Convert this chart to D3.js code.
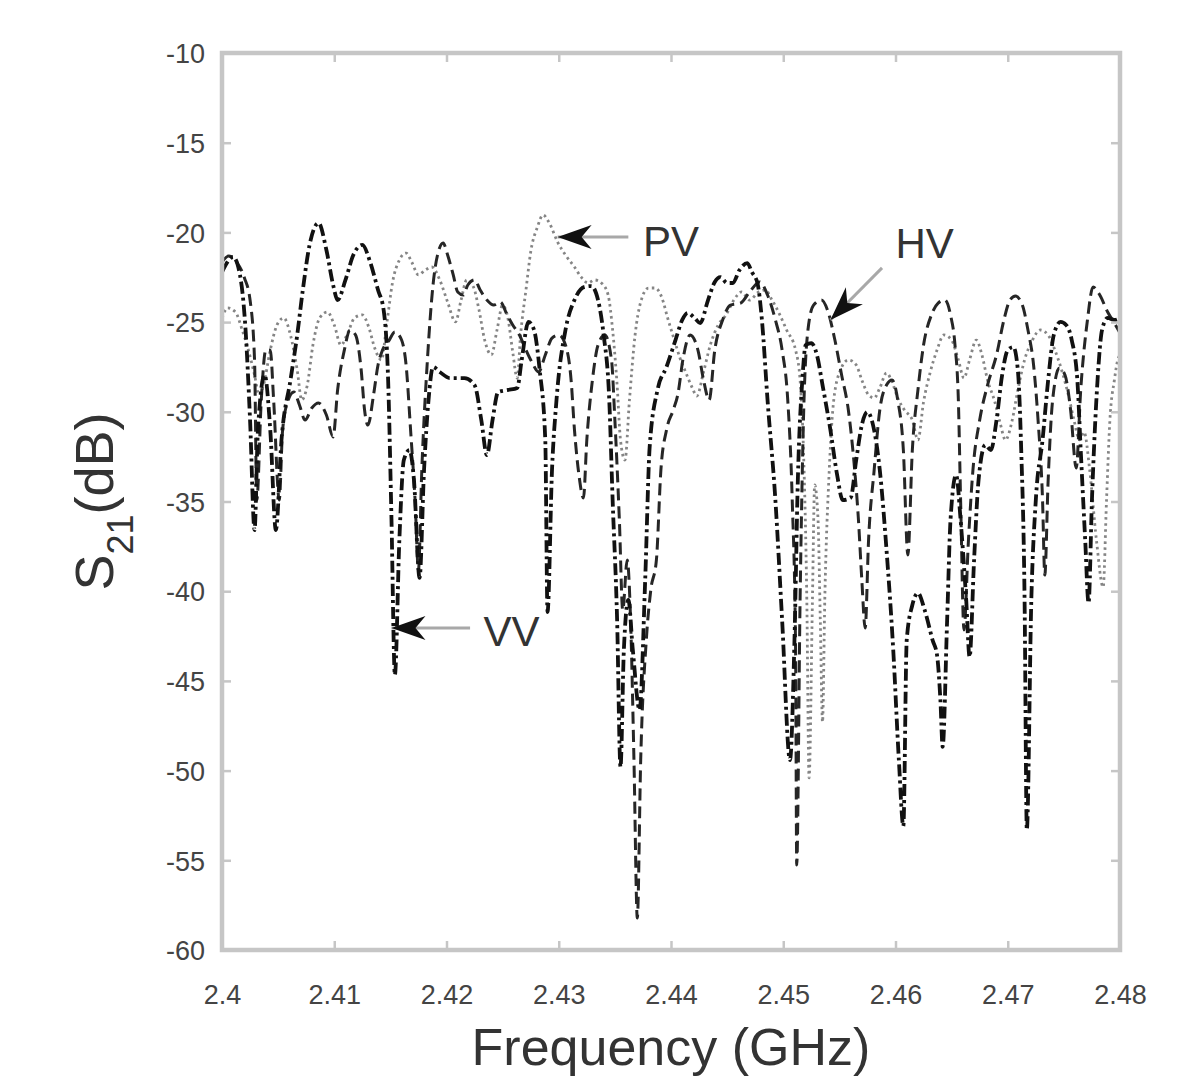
<!DOCTYPE html>
<html>
<head>
<meta charset="utf-8">
<script src="https://cdn.jsdelivr.net/npm/d3@7/dist/d3.min.js"></script>
<style>
  body { margin: 0; background: #fff; }
  svg { display: block; }
</style>
</head>
<body>
<div id="chart"></div>
<script>
var width = 1186,
  height = 1078,
  margin = { left: 222, right: 66, top: 53, bottom: 128 };

// tick values
var xTicks = [2.4, 2.41, 2.42, 2.43, 2.44, 2.45, 2.46, 2.47, 2.48];
var yTicks = [-10, -15, -20, -25, -30, -35, -40, -45, -50, -55, -60];

// VV (dash-dot)
var vvFreq = [2.4000, 2.4010, 2.4016, 2.4021, 2.4025, 2.4029, 2.4032, 2.4038, 2.4043, 2.4048,
  2.4053, 2.4061, 2.4067, 2.4072, 2.4078, 2.4086, 2.4093, 2.4099, 2.4103, 2.4110,
  2.4117, 2.4125, 2.4132, 2.4139, 2.4144, 2.4148, 2.4151, 2.4154, 2.4158, 2.4162,
  2.4167, 2.4171, 2.4176, 2.4180, 2.4184, 2.4188, 2.4194, 2.4203, 2.4216, 2.4225,
  2.4231, 2.4236, 2.4241, 2.4246, 2.4255, 2.4263, 2.4267, 2.4273, 2.4278, 2.4283,
  2.4288, 2.4290, 2.4294, 2.4298, 2.4306, 2.4314, 2.4323, 2.4329, 2.4335, 2.4340,
  2.4345, 2.4348, 2.4352, 2.4355, 2.4358, 2.4362, 2.4366, 2.4372, 2.4377, 2.4381,
  2.4388, 2.4396, 2.4404, 2.4410, 2.4415, 2.4421, 2.4426, 2.4433, 2.4439, 2.4444,
  2.4450, 2.4455, 2.4461, 2.4468, 2.4472, 2.4477, 2.4481, 2.4486, 2.4493, 2.4499,
  2.4506, 2.4510, 2.4513, 2.4517, 2.4520, 2.4525, 2.4530, 2.4535, 2.4542, 2.4548,
  2.4553, 2.4560, 2.4565, 2.4570, 2.4575, 2.4580, 2.4586, 2.4592, 2.4598, 2.4603,
  2.4607, 2.4610, 2.4615, 2.4620, 2.4626, 2.4633, 2.4637, 2.4640, 2.4642, 2.4646,
  2.4649, 2.4654, 2.4658, 2.4663, 2.4666, 2.4670, 2.4674, 2.4680, 2.4685, 2.4690,
  2.4695, 2.4700, 2.4705, 2.4709, 2.4712, 2.4715, 2.4717, 2.4721, 2.4725, 2.4731,
  2.4736, 2.4741, 2.4747, 2.4752, 2.4757, 2.4762, 2.4765, 2.4769, 2.4772, 2.4775,
  2.4780, 2.4784, 2.4789, 2.4795, 2.4800];
var vvS21 = [-22.21, -21.37, -22.37, -25.44, -30.46, -36.59, -31.01, -27.95, -31.01, -36.59,
  -31.57, -28.23, -25.72, -23.21, -20.70, -19.48, -20.98, -22.93, -23.77, -22.65,
  -21.26, -20.70, -21.65, -23.21, -24.33, -28.23, -36.03, -44.67, -37.15, -32.69,
  -32.13, -33.80, -39.26, -33.24, -29.34, -27.50, -27.78, -28.12, -28.12, -28.51,
  -30.46, -32.41, -30.46, -28.90, -28.78, -28.67, -27.11, -24.99, -25.44, -27.67,
  -31.57, -41.16, -33.24, -29.34, -25.44, -23.77, -23.04, -22.99, -23.77, -25.72,
  -29.34, -34.92, -41.61, -49.80, -43.28, -40.49, -43.28, -46.62, -39.38, -31.96,
  -28.78, -27.50, -26.00, -24.88, -24.49, -24.77, -25.05, -23.77, -22.76, -22.49,
  -22.82, -22.82, -22.10, -21.71, -22.21, -22.82, -24.88, -29.34, -34.92, -41.61,
  -49.41, -42.72, -33.80, -28.23, -26.28, -26.17, -26.83, -28.51, -31.01, -33.52,
  -34.92, -34.80, -32.69, -30.74, -30.01, -30.74, -33.24, -37.70, -43.28, -49.41,
  -53.09, -42.72, -40.77, -40.10, -41.05, -42.72, -43.56, -46.06, -48.68, -41.61,
  -36.03, -33.52, -36.03, -40.49, -43.67, -38.26, -33.80, -31.85, -32.13, -30.46,
  -27.95, -26.56, -26.39, -27.67, -32.13, -40.49, -53.31, -40.49, -34.92, -31.57,
  -28.23, -25.72, -24.99, -25.16, -26.00, -28.23, -32.13, -37.15, -40.66, -34.92,
  -28.23, -25.44, -24.77, -24.88, -24.77];

// HV (dashed)
var hvFreq = [2.4000, 2.4006, 2.4013, 2.4020, 2.4025, 2.4029, 2.4031, 2.4035, 2.4039, 2.4043,
  2.4046, 2.4051, 2.4054, 2.4059, 2.4064, 2.4069, 2.4074, 2.4080, 2.4086, 2.4093,
  2.4099, 2.4103, 2.4109, 2.4114, 2.4119, 2.4124, 2.4127, 2.4130, 2.4135, 2.4139,
  2.4143, 2.4149, 2.4154, 2.4160, 2.4164, 2.4168, 2.4172, 2.4175, 2.4178, 2.4183,
  2.4188, 2.4192, 2.4197, 2.4201, 2.4206, 2.4210, 2.4215, 2.4219, 2.4225, 2.4230,
  2.4236, 2.4242, 2.4248, 2.4254, 2.4259, 2.4265, 2.4270, 2.4276, 2.4282, 2.4288,
  2.4294, 2.4300, 2.4306, 2.4311, 2.4314, 2.4318, 2.4322, 2.4325, 2.4330, 2.4335,
  2.4341, 2.4347, 2.4350, 2.4354, 2.4357, 2.4361, 2.4364, 2.4367, 2.4370, 2.4373,
  2.4378, 2.4382, 2.4387, 2.4391, 2.4396, 2.4402, 2.4406, 2.4411, 2.4417, 2.4424,
  2.4429, 2.4434, 2.4439, 2.4446, 2.4453, 2.4462, 2.4470, 2.4479, 2.4486, 2.4493,
  2.4499, 2.4504, 2.4508, 2.4511, 2.4512, 2.4515, 2.4518, 2.4522, 2.4527, 2.4534,
  2.4540, 2.4546, 2.4552, 2.4558, 2.4562, 2.4567, 2.4570, 2.4573, 2.4576, 2.4581,
  2.4586, 2.4592, 2.4597, 2.4602, 2.4607, 2.4611, 2.4615, 2.4620, 2.4625, 2.4632,
  2.4638, 2.4644, 2.4649, 2.4653, 2.4656, 2.4658, 2.4661, 2.4665, 2.4669, 2.4675,
  2.4682, 2.4690, 2.4697, 2.4702, 2.4707, 2.4713, 2.4718, 2.4723, 2.4727, 2.4731,
  2.4733, 2.4736, 2.4740, 2.4746, 2.4751, 2.4756, 2.4761, 2.4765, 2.4771, 2.4776,
  2.4782, 2.4789, 2.4796, 2.4800];
var hvS21 = [-21.65, -21.32, -21.65, -22.54, -23.77, -27.11, -34.92, -29.34, -26.56, -26.56,
  -29.34, -34.92, -31.01, -29.34, -28.90, -29.62, -30.46, -29.79, -29.51, -30.18,
  -31.40, -28.78, -26.56, -25.44, -25.72, -27.67, -29.90, -30.74, -29.06, -27.39,
  -26.56, -26.00, -25.55, -26.00, -27.39, -31.01, -34.92, -38.82, -33.24, -27.11,
  -22.93, -21.26, -20.59, -21.26, -22.37, -23.32, -23.49, -22.93, -22.65, -23.21,
  -23.77, -24.05, -23.88, -24.60, -25.16, -25.72, -26.44, -27.22, -27.78, -26.83,
  -25.89, -25.72, -26.28, -28.23, -31.01, -33.52, -34.80, -31.57, -28.23, -26.28,
  -25.72, -27.11, -30.46, -36.03, -41.05, -38.26, -41.61, -49.41, -58.22, -49.41,
  -42.72, -39.93, -38.26, -33.24, -31.01, -29.90, -29.06, -26.95, -25.72, -26.56,
  -28.23, -29.34, -26.56, -24.88, -24.05, -23.94, -23.32, -22.76, -23.49, -24.88,
  -26.56, -29.34, -34.92, -43.28, -55.26, -40.49, -30.46, -25.44, -24.05, -23.77,
  -24.44, -26.00, -27.95, -29.90, -32.13, -36.03, -39.38, -42.05, -37.15, -33.24,
  -29.90, -28.51, -28.23, -29.34, -32.13, -37.98, -32.13, -28.78, -26.28, -24.60,
  -23.94, -23.77, -24.60, -26.28, -29.34, -34.92, -42.16, -37.15, -33.24, -30.46,
  -28.51, -26.83, -24.77, -23.77, -23.55, -24.05, -25.44, -27.39, -30.46, -34.92,
  -39.10, -33.80, -29.34, -27.56, -27.95, -29.90, -33.13, -28.78, -24.88, -23.04,
  -23.49, -24.44, -25.16, -25.61];

// PV (dotted)
var pvFreq = [2.4000, 2.4005, 2.4012, 2.4018, 2.4023, 2.4029, 2.4033, 2.4037, 2.4043, 2.4049,
  2.4055, 2.4061, 2.4067, 2.4071, 2.4076, 2.4081, 2.4087, 2.4094, 2.4100, 2.4106,
  2.4112, 2.4118, 2.4125, 2.4131, 2.4136, 2.4142, 2.4147, 2.4152, 2.4158, 2.4164,
  2.4169, 2.4175, 2.4181, 2.4187, 2.4194, 2.4201, 2.4208, 2.4213, 2.4218, 2.4224,
  2.4229, 2.4234, 2.4240, 2.4245, 2.4250, 2.4255, 2.4259, 2.4263, 2.4266, 2.4271,
  2.4275, 2.4281, 2.4286, 2.4292, 2.4299, 2.4306, 2.4314, 2.4320, 2.4326, 2.4332,
  2.4339, 2.4344, 2.4348, 2.4352, 2.4355, 2.4359, 2.4363, 2.4368, 2.4373, 2.4380,
  2.4386, 2.4392, 2.4397, 2.4403, 2.4408, 2.4413, 2.4419, 2.4423, 2.4429, 2.4435,
  2.4442, 2.4449, 2.4456, 2.4463, 2.4470, 2.4478, 2.4484, 2.4490, 2.4497, 2.4503,
  2.4511, 2.4515, 2.4518, 2.4521, 2.4523, 2.4526, 2.4528, 2.4531, 2.4533, 2.4535,
  2.4537, 2.4541, 2.4545, 2.4551, 2.4558, 2.4565, 2.4570, 2.4576, 2.4581, 2.4586,
  2.4592, 2.4597, 2.4602, 2.4608, 2.4615, 2.4620, 2.4625, 2.4631, 2.4637, 2.4643,
  2.4650, 2.4656, 2.4661, 2.4666, 2.4672, 2.4677, 2.4682, 2.4688, 2.4693, 2.4698,
  2.4704, 2.4709, 2.4715, 2.4722, 2.4729, 2.4736, 2.4742, 2.4748, 2.4754, 2.4759,
  2.4764, 2.4768, 2.4773, 2.4779, 2.4785, 2.4788, 2.4791, 2.4795, 2.4798, 2.4800];
var pvS21 = [-24.77, -24.21, -24.44, -25.44, -26.44, -27.95, -29.06, -28.51, -26.56, -25.16,
  -24.77, -25.72, -27.67, -29.34, -28.51, -26.28, -24.77, -24.44, -25.16, -26.28,
  -25.61, -24.77, -24.60, -25.33, -26.44, -27.11, -24.99, -22.76, -21.54, -21.15,
  -21.65, -22.37, -22.10, -21.93, -22.65, -23.88, -24.99, -23.77, -22.65, -23.04,
  -24.33, -26.00, -26.83, -25.44, -24.05, -24.88, -26.67, -28.12, -25.72, -23.10,
  -21.09, -19.70, -19.03, -19.53, -20.54, -21.26, -21.93, -22.49, -22.82, -22.65,
  -22.88, -23.49, -25.44, -28.51, -31.57, -32.69, -29.34, -25.72, -23.88, -23.10,
  -23.10, -23.66, -24.77, -26.00, -27.00, -27.78, -28.67, -29.12, -27.78, -26.28,
  -25.16, -24.60, -23.77, -23.32, -23.77, -23.32, -23.21, -23.77, -24.60, -25.44,
  -26.56, -28.23, -32.13, -40.49, -50.41, -40.49, -34.08, -36.03, -41.61, -47.29,
  -40.49, -33.24, -29.34, -27.67, -27.11, -27.39, -28.23, -29.06, -29.23, -28.67,
  -27.84, -28.34, -29.23, -29.90, -30.46, -31.57, -29.45, -27.78, -26.56, -25.72,
  -26.00, -27.11, -28.12, -27.11, -26.00, -26.83, -28.23, -29.34, -30.57, -31.57,
  -30.46, -28.78, -27.11, -26.00, -25.44, -25.72, -26.56, -27.67, -29.06, -30.46,
  -31.57, -31.13, -33.24, -37.15, -39.77, -34.92, -30.46, -28.23, -27.11, -26.83];

var svg = d3.select("#chart")
  .append("svg")
  .attr("width", width)
  .attr("height", height)
  .style("font-family", "'Liberation Sans', Arial, sans-serif");

svg.append("rect").attr("width", width).attr("height", height).attr("fill", "#fff");

var x = d3.scaleLinear().domain([2.4, 2.48]).range([margin.left, width - margin.right]);
var y = d3.scaleLinear().domain([-60, -10]).range([height - margin.bottom, margin.top]);

var x0 = x.range()[0], x1 = x.range()[1], y0 = y.range()[1], y1 = y.range()[0];

// series
var line = d3.line()
  .x(function (d) { return x(d[0]); })
  .y(function (d) { return y(d[1]); })
  .curve(d3.curveMonotoneX);

function pairs(f, v) { return f.map(function (d, i) { return [d, v[i]]; }); }

var plot = svg.append("g").attr("class", "plot");

plot.append("path")
  .datum(pairs(pvFreq, pvS21))
  .attr("d", line)
  .attr("fill", "none")
  .attr("stroke", "#858585")
  .attr("stroke-width", 2.8)
  .attr("stroke-dasharray", "2.5,3.5");

plot.append("path")
  .datum(pairs(hvFreq, hvS21))
  .attr("d", line)
  .attr("fill", "none")
  .attr("stroke", "#262626")
  .attr("stroke-width", 3)
  .attr("stroke-dasharray", "12,6");

plot.append("path")
  .datum(pairs(vvFreq, vvS21))
  .attr("d", line)
  .attr("fill", "none")
  .attr("stroke", "#111")
  .attr("stroke-width", 3.8)
  .attr("stroke-dasharray", "12,4,3,4");

// axes box
var axisColor = "#c6c6c6";
var xb = d3.axisBottom(x).tickValues(xTicks).tickSize(-9).tickFormat(function (d) { return String(+d.toFixed(2)); });
var xt = d3.axisTop(x).tickValues(xTicks).tickSize(-9).tickFormat("");
var yl = d3.axisLeft(y).tickValues(yTicks).tickSize(-9).tickFormat(function (d) { return String(d); });
var yr = d3.axisRight(y).tickValues(yTicks).tickSize(-9).tickFormat("");

function styleAxis(g) {
  g.select(".domain").remove();
  g.selectAll(".tick line").attr("stroke", axisColor).attr("stroke-width", 2.5);
  g.selectAll(".tick text")
    .attr("fill", "#444")
    .style("font-size", "27px")
    .style("font-family", "'Liberation Sans', Arial, sans-serif");
}

svg.append("g").attr("transform", "translate(0," + y1 + ")").call(xb).call(styleAxis)
  .selectAll(".tick text").attr("y", 0).attr("dy", "2.0em");
svg.append("g").attr("transform", "translate(0," + y0 + ")").call(xt).call(styleAxis);
svg.append("g").attr("transform", "translate(" + x0 + ",0)").call(yl).call(styleAxis)
  .selectAll(".tick text").attr("x", -17).attr("dy", "0.36em");
svg.append("g").attr("transform", "translate(" + x1 + ",0)").call(yr).call(styleAxis);

svg.append("rect")
  .attr("x", x0).attr("y", y0)
  .attr("width", x1 - x0).attr("height", y1 - y0)
  .attr("fill", "none")
  .attr("stroke", axisColor)
  .attr("stroke-width", 4.5);

// axis titles
svg.append("text")
  .attr("x", (x0 + x1) / 2)
  .attr("y", 1065)
  .attr("text-anchor", "middle")
  .attr("fill", "#333")
  .style("font-size", "52px")
  .text("Frequency (GHz)");

var yt = svg.append("text")
  .attr("transform", "translate(113," + (y0 + y1) / 2 + ") rotate(-90)")
  .attr("text-anchor", "middle")
  .attr("fill", "#333")
  .style("font-size", "54px");
yt.append("tspan").text("S");
yt.append("tspan").attr("dy", 20).style("font-size", "36px").text("21");
yt.append("tspan").attr("dy", -20).text("(dB)");

// annotations
var notes = [
  { label: "PV", tip: [2.4299, -20.26], tail: [2.4362, -20.26], text: [2.4375, -21.32] },
  { label: "VV", tip: [2.4151, -42.05], tail: [2.4221, -42.05], text: [2.4233, -43.05] },
  { label: "HV", tip: [2.4542, -24.88], tail: [2.4588, -21.98], text: [2.4600, -21.43] }
];

notes.forEach(function (n) {
  var tx = x(n.tip[0]), ty = y(n.tip[1]);
  var ex = x(n.tail[0]), ey = y(n.tail[1]);
  var ang = Math.atan2(ey - ty, ex - tx) * 180 / Math.PI;
  svg.append("line")
    .attr("x1", tx).attr("y1", ty).attr("x2", ex).attr("y2", ey)
    .attr("stroke", "#a8a8a8").attr("stroke-width", 3);
  svg.append("path")
    .attr("d", "M0,0 L34,-12 L24,0 L34,12 Z")
    .attr("transform", "translate(" + tx + "," + ty + ") rotate(" + ang + ")")
    .attr("fill", "#111");
  svg.append("text")
    .attr("x", x(n.text[0])).attr("y", y(n.text[1]))
    .attr("fill", "#333")
    .style("font-size", "42px")
    .text(n.label);
});
</script>
</body>
</html>
